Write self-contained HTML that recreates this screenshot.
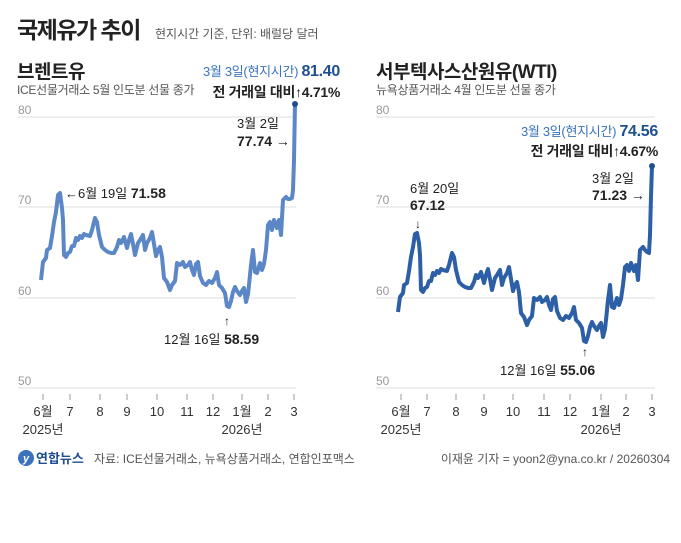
<!DOCTYPE html>
<html><head><meta charset="utf-8"><style>
html,body{margin:0;padding:0;background:#fff;}
svg{display:block;font-family:"Liberation Sans","Noto Sans CJK KR",sans-serif;}
</style></head><body>
<svg width="681" height="543" viewBox="0 0 681 543">
<rect width="681" height="543" fill="#fff"/>
<text x="17" y="38" font-size="23" font-weight="bold" fill="#222" letter-spacing="-1.5">국제유가 추이</text>
<text x="155" y="38" font-size="12" fill="#555">현지시간 기준, 단위: 배럴당 달러</text>

<!-- left -->
<text x="17" y="78" font-size="19" font-weight="bold" fill="#222" letter-spacing="-0.5">브렌트유</text>
<text x="17" y="94" font-size="12" fill="#555" letter-spacing="-0.3">ICE선물거래소 5월 인도분 선물 종가</text>
<g stroke="#ddd" stroke-width="1">
<line x1="18" y1="117" x2="296" y2="117"/><line x1="18" y1="207" x2="296" y2="207"/>
<line x1="18" y1="298" x2="296" y2="298"/><line x1="18" y1="388" x2="296" y2="388"/>
</g>
<g font-size="12" fill="#999"><text x="18" y="114">80</text><text x="18" y="204">70</text><text x="18" y="295">60</text><text x="18" y="385">50</text></g>
<g stroke="#999" stroke-width="1">
<line x1="43" y1="394" x2="43" y2="400"/><line x1="70" y1="394" x2="70" y2="400"/><line x1="100" y1="394" x2="100" y2="400"/><line x1="127" y1="394" x2="127" y2="400"/><line x1="157" y1="394" x2="157" y2="400"/><line x1="187" y1="394" x2="187" y2="400"/><line x1="213" y1="394" x2="213" y2="400"/><line x1="242" y1="394" x2="242" y2="400"/><line x1="268" y1="394" x2="268" y2="400"/><line x1="294" y1="394" x2="294" y2="400"/>
</g>
<g font-size="13" fill="#333" text-anchor="middle">
<text x="43" y="416">6월</text><text x="70" y="416">7</text><text x="100" y="416">8</text><text x="127" y="416">9</text><text x="157" y="416">10</text><text x="187" y="416">11</text><text x="213" y="416">12</text><text x="242" y="416">1월</text><text x="268" y="416">2</text><text x="294" y="416">3</text>
<text x="43" y="434">2025년</text><text x="242" y="434">2026년</text>
</g>
<polyline fill="none" stroke="#5b87c7" stroke-width="4" stroke-linejoin="round" points="41,280 43,262 46,258 47,250 50,248 52,236 54,222 56,212 58,195 60,193 62,208 63,220 64,255 66,257 68,253 70,252 72,246 74,246 76,238 78,240 80,236 82,238 84,234 86,235 90,236 92,230 95,218 97,222 99,235 102,247 105,250 108,252 111,253 114,253 117,247 119,240 121,243 124,237 127,248 129,240 131,234 133,244 135,255 138,243 140,240 143,235 145,250 147,243 150,238 152,232 154,244 156,256 158,250 160,247 162,257 164,278 167,282 170,290 172,285 175,281 177,263 180,265 183,262 185,267 188,265 190,262 192,270 194,275 196,264 198,262 200,276 203,283 206,285 209,281 212,283 215,278 217,272 219,285 222,288 225,293 227,306 229,307 231,301 233,292 235,287 237,291 240,295 242,291 244,288 246,302 248,294 249,285 251,265 253,250 255,272 257,273 260,263 262,270 264,264 266,250 268,225 270,222 272,230 274,220 277,228 279,220 281,235 283,200 286,197 288,199 290,199 292,198 293,190 294,160 295,104"/>
<circle cx="295" cy="104" r="3" fill="#1f4f8f"/>
<text x="340" y="76" font-size="13" fill="#3b73bd" text-anchor="end" letter-spacing="-0.3">3월 3일(현지시간) <tspan font-size="16" font-weight="bold" fill="#1f4f8f">81.40</tspan></text>
<text x="340" y="97" font-size="14" font-weight="bold" fill="#222" text-anchor="end" letter-spacing="-0.3">전 거래일 대비↑4.71%</text>
<text x="237" y="128" font-size="13" fill="#222">3월 2일</text>
<text x="237" y="146" font-size="14" font-weight="bold" fill="#222">77.74 →</text>
<text x="65" y="198" font-size="13" fill="#222">←6월 19일 <tspan font-size="14" font-weight="bold">71.58</tspan></text>
<text x="227" y="325" font-size="12" fill="#222" text-anchor="middle">↑</text>
<text x="164" y="344" font-size="13" fill="#222">12월 16일 <tspan font-size="14" font-weight="bold">58.59</tspan></text>

<!-- right -->
<text x="376" y="78" font-size="19" font-weight="bold" fill="#222" letter-spacing="-0.5">서부텍사스산원유(WTI)</text>
<text x="376" y="94" font-size="12" fill="#555" letter-spacing="-0.3">뉴욕상품거래소 4월 인도분 선물 종가</text>
<g stroke="#ddd" stroke-width="1">
<line x1="376" y1="117" x2="655" y2="117"/><line x1="376" y1="207" x2="655" y2="207"/>
<line x1="376" y1="298" x2="655" y2="298"/><line x1="376" y1="388" x2="655" y2="388"/>
</g>
<g font-size="12" fill="#999"><text x="376" y="114">80</text><text x="376" y="204">70</text><text x="376" y="295">60</text><text x="376" y="385">50</text></g>
<g stroke="#999" stroke-width="1">
<line x1="401" y1="394" x2="401" y2="400"/><line x1="427" y1="394" x2="427" y2="400"/><line x1="456" y1="394" x2="456" y2="400"/><line x1="484" y1="394" x2="484" y2="400"/><line x1="513" y1="394" x2="513" y2="400"/><line x1="544" y1="394" x2="544" y2="400"/><line x1="570" y1="394" x2="570" y2="400"/><line x1="601" y1="394" x2="601" y2="400"/><line x1="626" y1="394" x2="626" y2="400"/><line x1="652" y1="394" x2="652" y2="400"/>
</g>
<g font-size="13" fill="#333" text-anchor="middle">
<text x="401" y="416">6월</text><text x="427" y="416">7</text><text x="456" y="416">8</text><text x="484" y="416">9</text><text x="513" y="416">10</text><text x="544" y="416">11</text><text x="570" y="416">12</text><text x="601" y="416">1월</text><text x="626" y="416">2</text><text x="652" y="416">3</text>
<text x="401" y="434">2025년</text><text x="601" y="434">2026년</text>
</g>
<g transform="translate(357,35)">
<polyline fill="none" stroke="#2d5fa6" stroke-width="4" stroke-linejoin="round" points="41,277 43,262 46,258 47,250 50,248 52,236 54,222 56,212 58,199 60,198 62,208 63,220 64,255 66,257 68,253 70,252 72,246 74,246 76,238 78,240 80,236 82,238 84,234 86,235 90,236 92,230 95,218 97,222 99,235 102,247 105,250 108,252 111,253 114,253 117,247 119,240 121,243 124,237 127,248 129,240 131,234 133,244 135,255 138,243 140,240 143,235 145,250 147,243 150,238 152,232 154,244 156,256 158,250 160,247 162,257 164,278 167,282 170,290 172,285 175,281 177,263 180,265 183,262 185,267 188,265 190,262 192,270 194,275 196,264 198,262 200,276 203,283 206,285 209,281 212,283 215,278 217,272 219,285 222,288 225,293 227,306 229,307 231,301 233,292 235,287 237,291 240,295 242,291 244,288 246,302 248,294 249,285 251,265 253,250 255,272 257,273 260,263 262,270 264,264 266,250 268,232 270,230 272,236 274,228 277,236 279,230 281,245 283,215 286,212 288,215 290,217 292,218 293,200 294,161 295,131"/>
<circle cx="295" cy="131" r="3" fill="#1f4f8f"/>
</g>
<text x="658" y="136" font-size="13" fill="#3b73bd" text-anchor="end" letter-spacing="-0.3">3월 3일(현지시간) <tspan font-size="16" font-weight="bold" fill="#1f4f8f">74.56</tspan></text>
<text x="658" y="156" font-size="14" font-weight="bold" fill="#222" text-anchor="end" letter-spacing="-0.3">전 거래일 대비↑4.67%</text>
<text x="592" y="183" font-size="13" fill="#222">3월 2일</text>
<text x="592" y="200" font-size="14" font-weight="bold" fill="#222">71.23 →</text>
<text x="410" y="193" font-size="13" fill="#222">6월 20일</text>
<text x="410" y="210" font-size="14" font-weight="bold" fill="#222">67.12</text>
<text x="418" y="228" font-size="12" fill="#222" text-anchor="middle">↓</text>
<text x="585" y="356" font-size="12" fill="#222" text-anchor="middle">↑</text>
<text x="500" y="375" font-size="13" fill="#222">12월 16일 <tspan font-size="14" font-weight="bold">55.06</tspan></text>

<!-- footer -->
<circle cx="26" cy="458" r="8" fill="#3b73bd"/>
<text x="26" y="462" font-size="11" font-weight="bold" fill="#fff" text-anchor="middle" font-style="italic">y</text>
<text x="36" y="463" font-size="13" font-weight="bold" fill="#1f4f8f">연합뉴스</text>
<text x="94" y="463" font-size="12" fill="#555">자료: ICE선물거래소, 뉴욕상품거래소, 연합인포맥스</text>
<text x="670" y="463" font-size="12" fill="#555" text-anchor="end">이재윤 기자 = yoon2@yna.co.kr / 20260304</text>
</svg>
</body></html>
